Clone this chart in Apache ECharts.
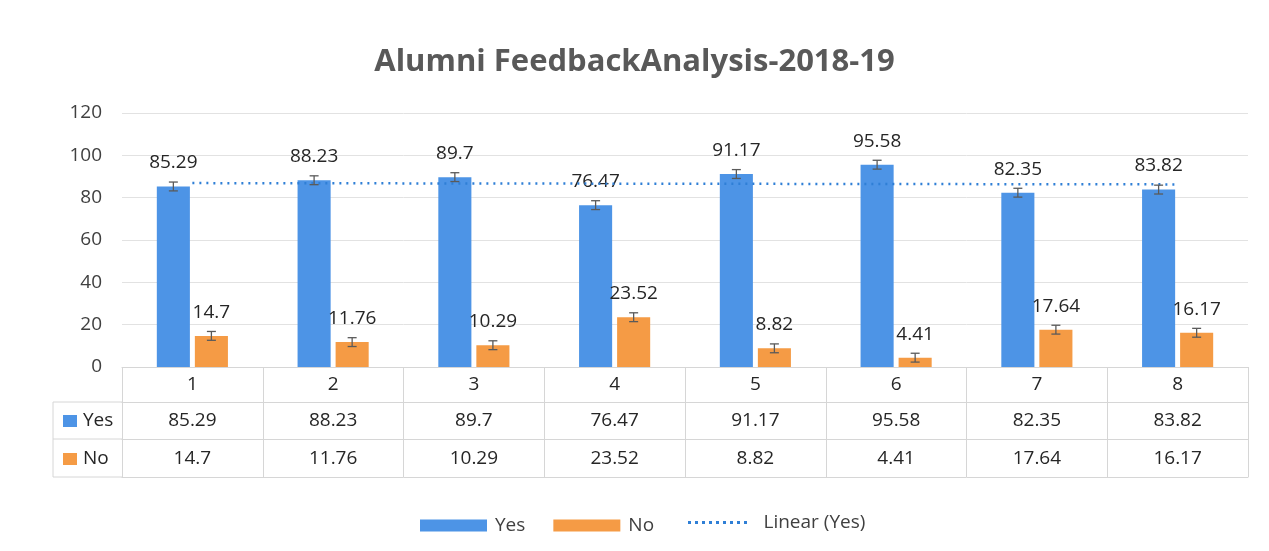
<!DOCTYPE html>
<html>
<head>
<meta charset="utf-8">
<script src="https://cdn.jsdelivr.net/npm/echarts@6/dist/echarts.min.js"></script>
<style>
html,body{margin:0;padding:0;background:#fff;}
#chart{width:1269px;height:551px;}
</style>
</head>
<body>
<div id="chart"></div>
<script>
const categories = ['1', '2', '3', '4', '5', '6', '7', '8'];
const yesValues = [85.29, 88.23, 89.7, 76.47, 91.17, 95.58, 82.35, 83.82];
const noValues = [14.7, 11.76, 10.29, 23.52, 8.82, 4.41, 17.64, 16.17];
const yAxisMin = 0, yAxisMax = 120, yAxisStep = 20;
const errorAmount = 2.09;            // error bar half-length
const trendIndex = [0, 7];           // trendline drawn from category 1 to 8
const trendValues = [86.88, 86.27];  // read trendline heights at its ends

const FONT = 'Open Sans';
const BLUE = '#4D94E6';
const ORANGE = '#F59B45';
const TREND = '#2F7FD6';
const TXT = '#262626';
const GRIDC = '#e2e2e2';
const TABLEC = '#d6d6d6';
const BAR_W = 0.235, BAR_GAP = 0.15;

function errRender(sign) {
  return function (params, api) {
    const i = api.value(0), v = api.value(1);
    const band = api.size([1, 0])[0];
    const bw = band * BAR_W;
    const cx = api.coord([i, v])[0] + sign * (bw + bw * BAR_GAP) / 2;
    const yt = api.coord([i, v + errorAmount])[1];
    const yb = api.coord([i, v - errorAmount])[1];
    const st = {stroke: '#5a5a5a', lineWidth: 1.3};
    return {type: 'group', children: [
      {type: 'line', shape: {x1: cx, y1: yt, x2: cx, y2: yb}, style: st},
      {type: 'line', shape: {x1: cx - 4.5, y1: yt, x2: cx + 4.5, y2: yt}, style: st},
      {type: 'line', shape: {x1: cx - 4.5, y1: yb, x2: cx + 4.5, y2: yb}, style: st}
    ]};
  };
}

let dotPath = 'path://';
for (let k = 0; k < 9; k++) dotPath += 'M' + (k * 7) + ',0h3v3h-3z';

const chart = echarts.init(document.getElementById('chart'));
const tableTextStyle = {fontFamily: FONT, fontSize: 19, color: TXT};

chart.setOption({
  backgroundColor: '#fff',
  animation: false,
  textStyle: {fontFamily: FONT},
  title: {
    text: 'Alumni FeedbackAnalysis-2018-19',
    left: 'center', top: 42,
    textStyle: {fontFamily: FONT, fontSize: 31, fontWeight: 'bold', color: '#595959'}
  },
  legend: [{
    left: 415, top: 511, itemWidth: 67, itemHeight: 12, itemGap: 28,
    data: [{name: 'Yes', icon: 'rect'}, {name: 'No', icon: 'rect'}],
    textStyle: {fontFamily: FONT, fontSize: 19, color: '#404040', padding: [0, 0, 0, 3]}
  }, {
    left: 683, top: 508, itemWidth: 62, itemHeight: 3, itemGap: 10,
    data: [{name: 'Linear (Yes)', icon: dotPath, itemStyle: {color: TREND}}],
    textStyle: {fontFamily: FONT, fontSize: 19, color: '#404040', padding: [0, 0, 0, 10]}
  }],
  grid: {left: 122, right: 21, top: 113, bottom: 184, containLabel: false},
  xAxis: [{
    type: 'category', data: categories, position: 'bottom',
    axisLine: {show: true, lineStyle: {color: TABLEC}},
    axisTick: {show: true, length: 110, alignWithLabel: false, lineStyle: {color: TABLEC}},
    axisLabel: Object.assign({margin: 8}, tableTextStyle)
  }, {
    type: 'category', data: yesValues.map(String), position: 'bottom', offset: 35,
    axisLine: {show: true, lineStyle: {color: TABLEC}},
    axisTick: {show: false},
    axisLabel: Object.assign({margin: 9}, tableTextStyle)
  }, {
    type: 'category', data: noValues.map(String), position: 'bottom', offset: 72,
    axisLine: {show: true, lineStyle: {color: TABLEC}},
    axisTick: {show: false},
    axisLabel: Object.assign({margin: 10}, tableTextStyle)
  }, {
    type: 'category', data: categories, position: 'bottom', offset: 110,
    axisLine: {show: true, lineStyle: {color: TABLEC}},
    axisTick: {show: false},
    axisLabel: {show: false}
  }],
  yAxis: {
    type: 'value', min: yAxisMin, max: yAxisMax, interval: yAxisStep,
    axisLine: {show: false}, axisTick: {show: false},
    axisLabel: {fontFamily: FONT, fontSize: 19, color: '#404040', margin: 20},
    splitLine: {lineStyle: {color: GRIDC, width: 1}}
  },
  graphic: [
    {type: 'line', shape: {x1: 53, y1: 402, x2: 122, y2: 402}, style: {stroke: TABLEC, lineWidth: 1}},
    {type: 'line', shape: {x1: 53, y1: 439, x2: 122, y2: 439}, style: {stroke: TABLEC, lineWidth: 1}},
    {type: 'line', shape: {x1: 53, y1: 477, x2: 122, y2: 477}, style: {stroke: TABLEC, lineWidth: 1}},
    {type: 'line', shape: {x1: 53, y1: 402, x2: 53, y2: 477}, style: {stroke: TABLEC, lineWidth: 1}},
    {type: 'rect', shape: {x: 63, y: 415, width: 14, height: 12}, style: {fill: BLUE}},
    {type: 'text', x: 83, y: 421, style: {text: 'Yes', fontFamily: FONT, fontSize: 19, fill: TXT, verticalAlign: 'middle'}},
    {type: 'rect', shape: {x: 63, y: 453, width: 14, height: 12}, style: {fill: ORANGE}},
    {type: 'text', x: 83, y: 459, style: {text: 'No', fontFamily: FONT, fontSize: 19, fill: TXT, verticalAlign: 'middle'}}
  ],
  series: [{
    name: 'Yes', type: 'bar', data: yesValues, barWidth: (BAR_W * 100) + '%', barGap: (BAR_GAP * 100) + '%',
    itemStyle: {color: BLUE},
    label: {show: true, position: 'top', distance: 14, fontFamily: FONT, fontSize: 19, color: TXT}
  }, {
    name: 'No', type: 'bar', data: noValues, barWidth: (BAR_W * 100) + '%',
    itemStyle: {color: ORANGE},
    label: {show: true, position: 'top', distance: 14, fontFamily: FONT, fontSize: 19, color: TXT}
  }, {
    name: 'Linear (Yes)', type: 'line',
    data: trendIndex.map((ix, k) => [ix, trendValues[k]]),
    symbol: 'none', z: 5,
    lineStyle: {color: TREND, width: 2.5, type: [2, 5]},
    itemStyle: {color: TREND}
  }, {
    name: 'errYes', type: 'custom', renderItem: errRender(-1), z: 6,
    data: yesValues.map((v, i) => [i, v]), encode: {x: 0, y: 1}, silent: true
  }, {
    name: 'errNo', type: 'custom', renderItem: errRender(1), z: 6,
    data: noValues.map((v, i) => [i, v]), encode: {x: 0, y: 1}, silent: true
  }]
});
</script>
</body>
</html>
